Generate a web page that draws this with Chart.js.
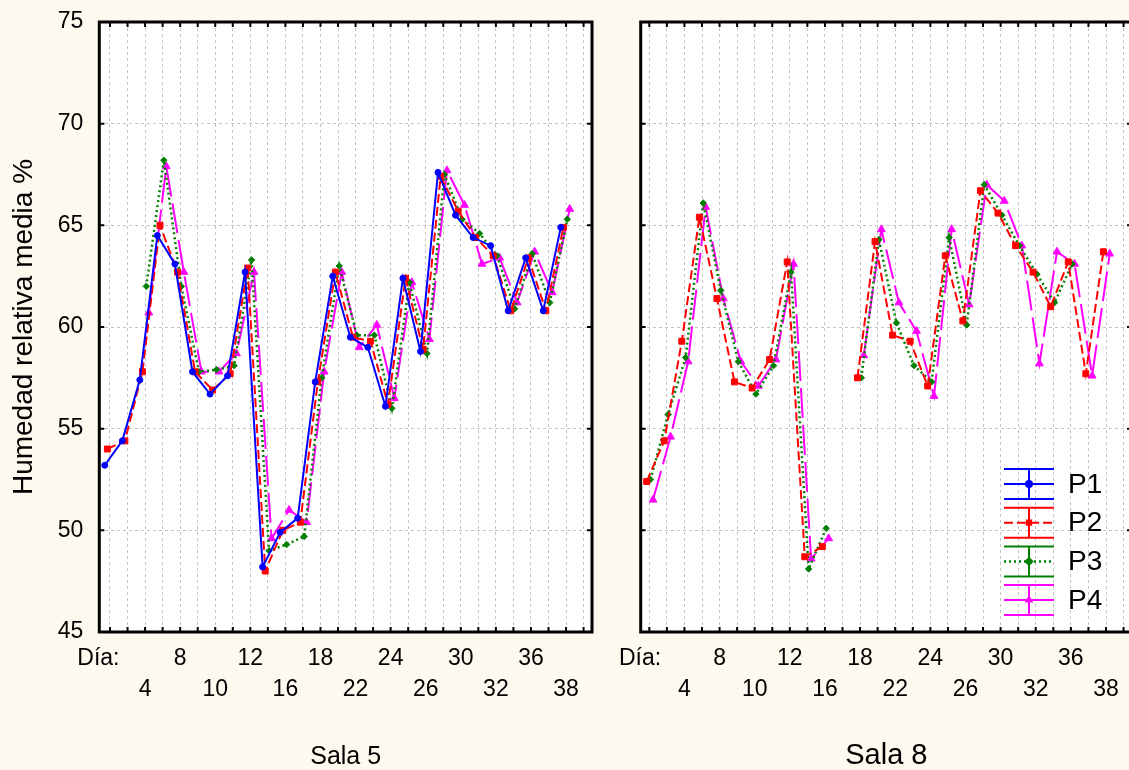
<!DOCTYPE html>
<html>
<head>
<meta charset="utf-8">
<script src="https://cdn.jsdelivr.net/npm/chart.js@4.4.0/dist/chart.umd.min.js"></script>
<style>
  html, body { margin: 0; padding: 0; background: #fef9ee; overflow: hidden; }
  #wrap { position: relative; width: 1129px; height: 770px; overflow: hidden; }
  canvas { position: absolute; top: 0; }
  #sala5 { left: 0; }
  #sala8 { left: 612px; }
</style>
</head>
<body>
<div id="wrap">
  <canvas id="sala5" width="612" height="770"></canvas>
  <canvas id="sala8" width="530" height="770"></canvas>
</div>
<script>
Chart.defaults.font.family = '"Liberation Sans", Arial, sans-serif';
Chart.defaults.color = '#000';
Chart.defaults.animation = false;

// Días de muestreo (categorías del eje X)
const dias = [2, 3, 4, 5, 8, 9, 10, 11, 12, 15, 16, 17, 18, 19, 22, 23, 24, 25, 26, 29, 30, 31, 32, 33, 36, 37, 38];
const diasMostrados = [4, 8, 10, 12, 16, 18, 22, 24, 26, 30, 32, 36, 38];
const series = ['P1', 'P2', 'P3', 'P4'];

// Sala 5
const sala5P1 = [53.2, 54.4, 57.4, 64.5, 63.1, 57.8, 56.7, 57.6, 62.7, 48.2, 49.9, 50.6, 57.3, 62.5, 59.5, 59.0, 56.1, 62.4, 58.8, 67.6, 65.5, 64.4, 64.0, 60.8, 63.4, 60.8, 64.9];
const sala5P2 = [54.0, 54.4, 57.8, 65.0, 62.7, 57.8, 56.9, 57.7, 62.9, 48.0, 50.0, 50.4, 57.3, 62.7, 59.5, 59.3, 56.2, 62.4, 58.9, 67.4, 65.7, 64.4, 63.5, 60.8, 63.4, 60.8, 64.9];
const sala5P3 = [null, null, 62.0, 68.2, 62.0, 57.8, 57.9, 58.1, 63.3, 49.0, 49.3, 49.7, 57.5, 63.0, 59.6, 59.6, 56.0, 62.2, 58.7, 67.5, 65.3, 64.6, 63.5, 60.9, 63.6, 61.2, 65.3];
const sala5P4 = [null, null, 60.7, 67.9, 62.7, 57.8, 57.8, 58.7, 62.7, 49.6, 51.0, 50.4, 57.8, 62.7, 59.0, 60.1, 56.5, 62.2, 59.4, 67.7, 66.0, 63.1, 63.4, 61.2, 63.7, 61.7, 65.8];

// Sala 8 (sin datos de P1)
const sala8P1 = dias.map(() => null);
const sala8P2 = [52.4, 54.4, 59.3, 65.4, 61.4, 57.3, 57.0, 58.4, 63.2, 48.7, 49.2, null, 57.5, 64.2, 59.6, 59.3, 57.1, 63.5, 60.3, 66.7, 65.6, 64.0, 62.7, 61.0, 63.2, 57.7, 63.7];
const sala8P3 = [52.5, 55.7, 58.5, 66.1, 61.8, 58.3, 56.7, 58.1, 62.7, 48.1, 50.1, null, 57.5, 64.3, 60.2, 58.1, 57.3, 64.4, 60.1, 67.0, 65.5, 64.0, 62.6, 61.2, 63.1, null, null];
const sala8P4 = [51.5, 54.6, 58.3, 65.9, 61.4, 58.3, 57.1, 58.4, 63.1, 48.6, 49.6, null, 58.6, 64.8, 61.2, 59.8, 56.6, 64.8, 61.1, 67.0, 66.2, 64.0, 58.2, 63.7, 63.1, 57.6, 63.6];

// Estilo de cada serie
const COLORES = ['#0000ff', '#ff0000', '#008000', '#ff00ff'];
const TRAZOS = [[], [9, 4], [2, 3], [30, 7]];
const MARCAS = ['circle', 'rect', 'rectRot', 'triangle'];
const RADIOS = [3, 4.2, 3.2, 4.5];
const DESPLAZ = [-0.3, -0.15, 0.07, 0.21];
const N_CAT = dias.length + 1; // hay una casilla vacía al final

function armarDatasets(valores) {
    return valores.map((serie, i) => ({
        label: series[i],
        data: serie.map((v, k) => ({ x: k + DESPLAZ[i], y: v })),
        borderColor: COLORES[i],
        backgroundColor: COLORES[i],
        borderWidth: i === 2 ? 2.5 : 2,
        borderDash: TRAZOS[i],
        pointStyle: MARCAS[i],
        pointRadius: RADIOS[i],
        pointBorderWidth: 1,
        spanGaps: false,
        tension: 0
    }));
}

// Etiquetas del eje: "Día:" y después un día de cada dos, en dos filas
function etiquetasEje() {
    const textos = [['Día:']];
    diasMostrados.forEach((d, i) => textos.push(i % 2 === 0 ? ['', String(d)] : [String(d)]));
    return textos;
}

// Fondo blanco, marco y marcas hacia dentro
const marcoPlugin = {
    id: 'marco',
    beforeDraw(chart) {
        const { ctx, chartArea: a } = chart;
        ctx.save();
        ctx.fillStyle = '#ffffff';
        ctx.fillRect(a.left, a.top, a.width, a.height);
        ctx.restore();
    },
    afterDatasetsDraw(chart) {
        const { ctx, chartArea: a, scales } = chart;
        ctx.save();
        ctx.strokeStyle = '#000';
        ctx.lineWidth = 2;
        ctx.beginPath();
        scales.x.ticks.forEach(t => {
            const px = scales.x.getPixelForValue(t.value);
            ctx.moveTo(px, a.top); ctx.lineTo(px, a.top + 5);
            ctx.moveTo(px, a.bottom); ctx.lineTo(px, a.bottom - 5);
        });
        scales.y.ticks.forEach(t => {
            const py = scales.y.getPixelForValue(t.value);
            ctx.moveTo(a.left, py); ctx.lineTo(a.left + 5, py);
            ctx.moveTo(a.right, py); ctx.lineTo(a.right - 5, py);
        });
        ctx.stroke();
        ctx.lineWidth = 3;
        ctx.strokeRect(a.left, a.top, a.width, a.height);
        ctx.restore();
    }
};

// Leyenda con iconos de barra de error (solo en Sala 8)
const leyendaPlugin = {
    id: 'leyenda',
    afterDraw(chart) {
        const { ctx, chartArea: a } = chart;
        const cx = a.right - 103, y0 = a.bottom - 148, paso = 38.7, w = 25, h = 15;
        ctx.save();
        chart.data.datasets.forEach((ds, i) => {
            const cy = y0 + i * paso;
            ctx.strokeStyle = ds.borderColor;
            ctx.fillStyle = ds.borderColor;
            ctx.lineWidth = 2;
            ctx.setLineDash([]);
            ctx.beginPath();
            ctx.moveTo(cx - w, cy - h); ctx.lineTo(cx + w, cy - h);
            ctx.moveTo(cx - w, cy + h); ctx.lineTo(cx + w, cy + h);
            ctx.moveTo(cx, cy - h); ctx.lineTo(cx, cy + h);
            ctx.stroke();
            ctx.setLineDash(i === 3 ? [] : ds.borderDash);
            ctx.lineWidth = ds.borderWidth;
            ctx.beginPath();
            ctx.moveTo(cx - w, cy); ctx.lineTo(cx + w, cy);
            ctx.stroke();
            ctx.setLineDash([]);
            Chart.helpers.drawPoint(ctx, { pointStyle: ds.pointStyle, radius: 3, rotation: 0, borderWidth: 1 }, cx, cy);
            ctx.fillStyle = '#000';
            ctx.font = '28px "Liberation Sans", Arial, sans-serif';
            ctx.textBaseline = 'middle';
            ctx.textAlign = 'left';
            ctx.fillText(ds.label, cx + 39, cy + 1);
        });
        ctx.restore();
    }
};

function crearPanel(id, valores, cfg) {
    const textos = etiquetasEje();
    const posiciones = [cfg.posDia].concat(diasMostrados.map(d => dias.indexOf(d)));
    return new Chart(document.getElementById(id), {
        type: 'line',
        data: { datasets: armarDatasets(valores) },
        options: {
            responsive: false,
            layout: { padding: { top: 22, right: cfg.derecha, left: 0, bottom: 0 } },
            plugins: { legend: { display: false }, tooltip: { enabled: false } },
            scales: {
                x: {
                    type: 'linear', position: 'bottom',
                    min: cfg.xmin, max: N_CAT - 0.52,
                    afterBuildTicks: s => { s.ticks = Array.from({ length: N_CAT }, (_, k) => ({ value: k })); },
                    afterFit: s => { s.height = 0; s.paddingLeft = 0; s.paddingRight = 0; },
                    ticks: { display: false },
                    grid: { color: '#c4c4c4', lineWidth: 1, drawTicks: false },
                    border: { display: false, dash: [3, 3] }
                },
                xl: {
                    type: 'linear', position: 'bottom',
                    min: cfg.xmin, max: N_CAT - 0.52,
                    afterBuildTicks: s => { s.ticks = posiciones.map(v => ({ value: v })); },
                    afterFit: s => { s.height = 138; s.paddingLeft = 0; s.paddingRight = 0; },
                    grid: { display: false, drawTicks: false },
                    border: { display: false },
                    ticks: {
                        autoSkip: false, maxRotation: 0, minRotation: 0, padding: 11,
                        font: { size: 23, lineHeight: 1.35 },
                        callback: (v, i) => textos[i]
                    },
                    title: {
                        display: true, text: cfg.sala,
                        font: { size: cfg.tamSala, lineHeight: 1 },
                        padding: { top: 0, bottom: cfg.padSala }
                    }
                },
                y: {
                    min: 45, max: 75,
                    afterFit: s => { s.width = cfg.anchoY; s.paddingTop = 0; s.paddingBottom = 0; },
                    ticks: { stepSize: 5, display: cfg.etiquetasY, padding: 16, font: { size: 23 } },
                    grid: { color: '#c4c4c4', lineWidth: 1, drawTicks: false },
                    border: { display: false, dash: [3, 3] },
                    title: {
                        display: cfg.etiquetasY, text: 'Humedad relativa media %',
                        font: { size: 28 }, padding: { top: 7, bottom: 0 }
                    }
                }
            }
        },
        plugins: cfg.leyenda ? [marcoPlugin, leyendaPlugin] : [marcoPlugin]
    });
}

crearPanel('sala5', [sala5P1, sala5P2, sala5P3, sala5P4], {
    sala: 'Sala 5', tamSala: 25, padSala: 0.5, xmin: -0.61, derecha: 20,
    anchoY: 99.3, etiquetasY: true, posDia: -0.66, leyenda: false
});
crearPanel('sala8', [sala8P1, sala8P2, sala8P3, sala8P4], {
    sala: 'Sala 8', tamSala: 29, padSala: 0, xmin: -0.49, derecha: 10,
    anchoY: 28.7, etiquetasY: false, posDia: -0.53, leyenda: true
});
</script>
</body>
</html>
